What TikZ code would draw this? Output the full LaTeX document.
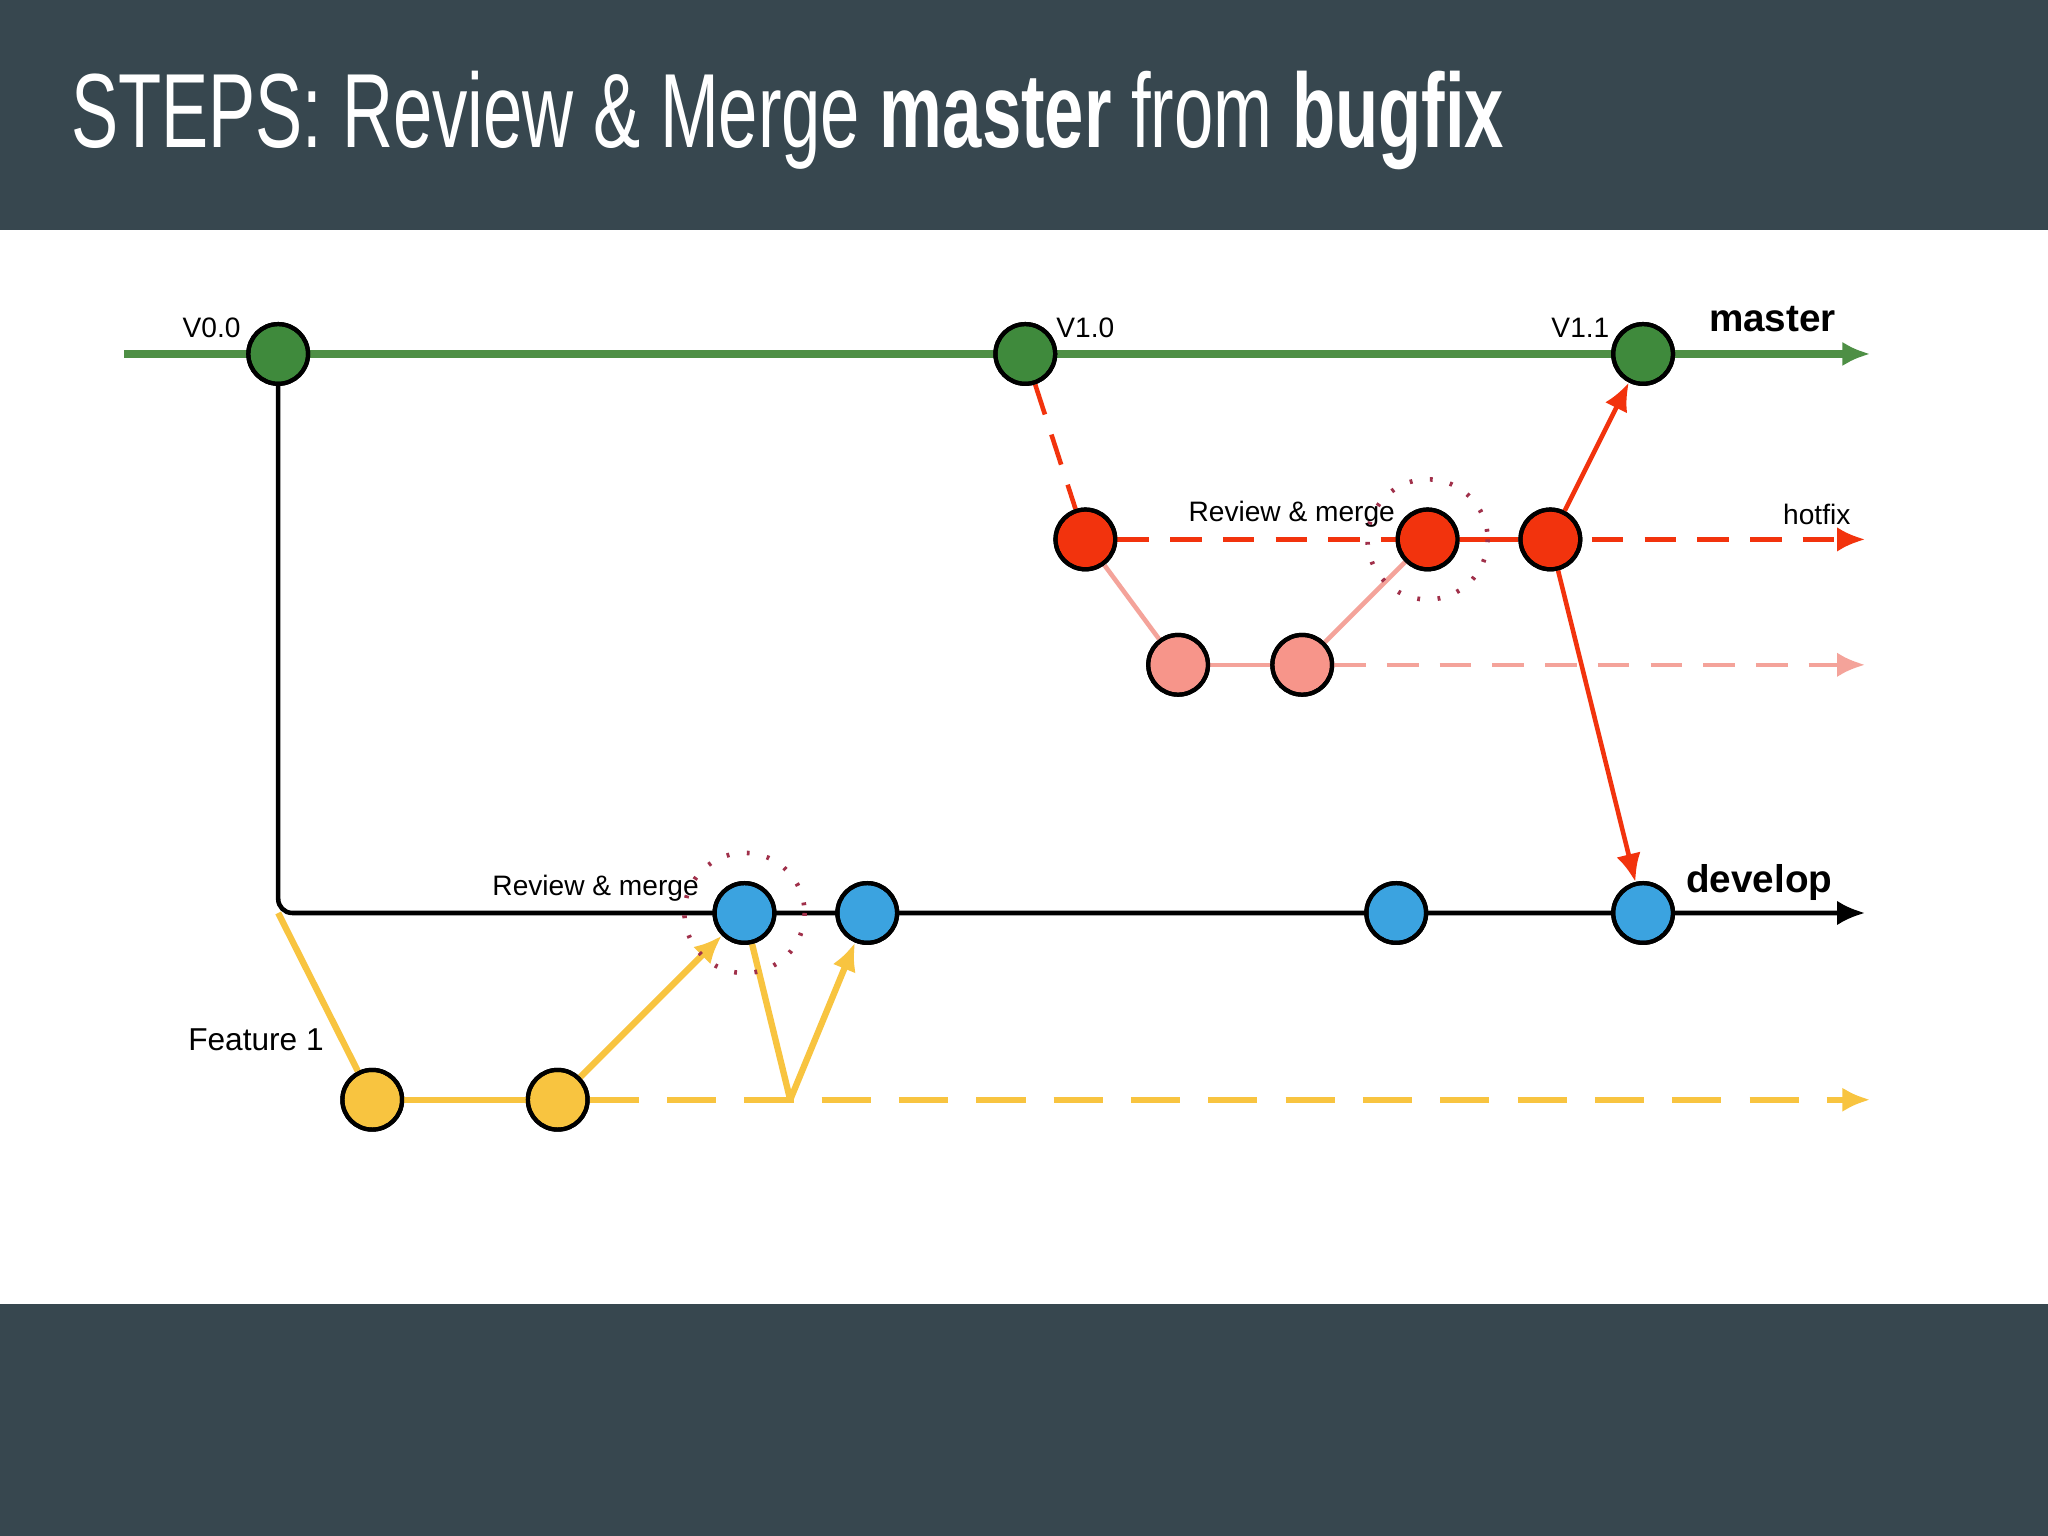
\documentclass[tikz,border=0pt]{standalone}
\usepackage{fontspec}
\setmainfont{Liberation Sans}
\newfontfamily\titlefont[FakeStretch=0.67]{Liberation Sans}
\usetikzlibrary{arrows.meta}
\definecolor{band}{HTML}{37474F}
\definecolor{mgreen}{HTML}{4E8F45}
\definecolor{ngreen}{HTML}{3F8A3C}
\definecolor{hred}{HTML}{F2330D}
\definecolor{pinkc}{HTML}{F7958A}
\definecolor{pinkl}{HTML}{F4A39A}
\definecolor{bluec}{HTML}{3BA3E0}
\definecolor{yell}{HTML}{F8C440}
\definecolor{dotc}{HTML}{A0304A}
\tikzset{
  commit/.style={circle,draw=black,line width=1.2pt,minimum size=17pt,inner sep=0pt},
  lab/.style={font=\fontsize{8}{9}\selectfont},
  tip/.style={-{Latex[length=8pt,width=7pt]}},
  lw/.style={line width=1.3pt},
  dsh/.style={dash pattern=on 9pt off 6pt},
}
\begin{document}
\begin{tikzpicture}[x=0.0130612cm,y=-0.0130612cm]
\useasboundingbox (0,0) rectangle (1568,1176);
\fill[white] (0,0) rectangle (1568,1176);
\fill[band] (0,0) rectangle (1568,176);
\fill[band] (0,998) rectangle (1568,1176);
\node[anchor=west,text=white,inner sep=0pt] (title) at (54,92) {\titlefont\fontsize{30}{34}\selectfont STEPS: Review \& Merge \textbf{master} from \textbf{bugfix}};
% master
\coordinate (ms) at (95,271); \coordinate (me) at (1432,271);
\draw[mgreen,line width=2.2pt,tip] (ms) -- (me);
% develop
\coordinate (dc) at (213,699); \coordinate (de) at (1428,699);
\draw[black,lw,tip,rounded corners=4pt] (213,271) -- (dc) -- (de);
% yellow
\coordinate (yv) at (605,842); \coordinate (ye) at (1432,842);
\node[commit,fill=yell] (y1) at (285,842) {};
\node[commit,fill=yell] (y2) at (427,842) {};
\node[commit,fill=bluec] (b1) at (570,699) {};
\node[commit,fill=bluec] (b2) at (664,699) {};
\node[commit,fill=bluec] (b3) at (1069,699) {};
\node[commit,fill=bluec] (b4) at (1258,699) {};
\draw[yell,line width=1.8pt] (dc) -- (y1);
\draw[yell,line width=1.8pt] (y1) -- (y2);
\draw[yell,line width=1.8pt,tip,dash pattern=on 14pt off 8pt] (y2) -- (ye);
\draw[yell,line width=1.8pt,tip] (y2) -- (b1);
\draw[yell,line width=1.8pt] (b1) -- (yv);
\draw[yell,line width=1.8pt,tip] (yv) -- (b2);
% red
\node[commit,fill=ngreen] (g1) at (213,271) {};
\node[commit,fill=ngreen] (g2) at (785,271) {};
\node[commit,fill=ngreen] (g3) at (1258,271) {};
\node[commit,fill=hred] (r1) at (831,413) {};
\node[commit,fill=hred] (r2) at (1093,413) {};
\node[commit,fill=hred] (r3) at (1187,413) {};
\node[commit,fill=pinkc] (p1) at (902,509) {};
\node[commit,fill=pinkc] (p2) at (997,509) {};
\coordinate (he) at (1428,413); \coordinate (pe) at (1428,509);
\draw[hred,lw,dsh] (g2) -- (r1);
\draw[hred,lw,dsh,tip] (r1) -- (he);
\draw[hred,lw] (r2) -- (r3);
\draw[pinkl,lw] (r1) -- (p1);
\draw[pinkl,lw] (p1) -- (p2);
\draw[pinkl,lw] (p2) -- (r2);
\draw[pinkl,lw,dsh,tip] (p2) -- (pe);
\draw[hred,lw,tip] (r3) -- (g3);
\draw[hred,lw,tip] (r3) -- (b4);
\foreach \n in {g1,g2,g3,r1,r2,r3,p1,p2,y1,y2,b1,b2,b3,b4} \node[commit] at (\n) {};
% dotted circles
\draw[dotc,line width=1.3pt,dash pattern=on 0.8pt off 5pt] (r2) circle[radius=46];
\draw[dotc,line width=1.3pt,dash pattern=on 0.8pt off 5pt] (b1) circle[radius=46];
% labels
\node[lab] (l1) at (162,251) {V0.0};
\node[lab] (l2) at (831,251) {V1.0};
\node[lab] (l3) at (1210,251) {V1.1};
\node[font=\bfseries\fontsize{11}{12}\selectfont] (l4) at (1357,244) {master};
\node[lab] (l5) at (1391,394) {hotfix};
\node[lab] (l6) at (989,394) {Review \& merge};
\node[lab] (l7) at (456,680) {Review \& merge};
\node[font=\bfseries\fontsize{11}{12}\selectfont] (l8) at (1347,676) {develop};
\node[font=\fontsize{9}{10}\selectfont] (l9) at (196,796) {Feature 1};
\end{tikzpicture}
\end{document}
